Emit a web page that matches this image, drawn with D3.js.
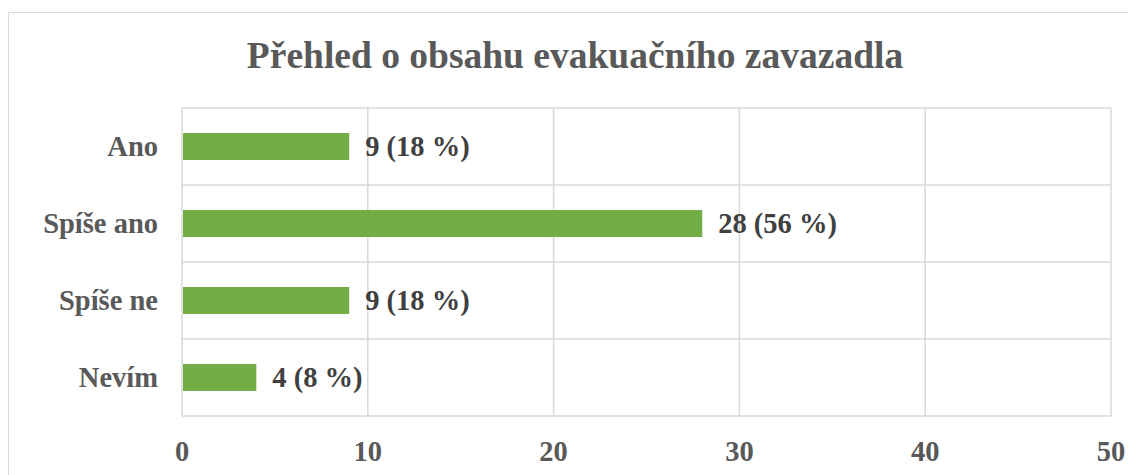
<!DOCTYPE html>
<meta charset="utf-8">
<style>
  body { margin: 0; background: #fff; }
  text { font-family: "Liberation Serif", "Times New Roman", serif; font-weight: bold; }
</style>
<script src="https://d3js.org/d3.v7.min.js"></script>
<svg width="1128" height="475"></svg>
<script>
const categories = ['Ano', 'Spíše ano', 'Spíše ne', 'Nevím'];
const counts = [9, 28, 9, 4];
const percents = [18, 56, 18, 8];
const xTicks = [0, 10, 20, 30, 40, 50];
const title = 'Přehled o obsahu evakuačního zavazadla';

const svg = d3.select('svg');

// chart frame
svg.append('rect')
  .attr('x', 8.5).attr('y', 12.5)
  .attr('width', 1140).attr('height', 480)
  .attr('fill', 'none').attr('stroke', '#d9d9d9').attr('stroke-width', 1);

svg.append('text')
  .attr('x', 575).attr('y', 68)
  .attr('text-anchor', 'middle')
  .attr('font-size', 37.5)
  .attr('fill', '#595959')
  .text(title);

const plotL = 182, plotR = 1111, plotT = 108, plotB = 416;

const x = d3.scaleLinear().domain([0, 50]).range([plotL, plotR]);
const y = d3.scaleBand().domain(categories).range([plotT, plotB]).paddingInner(0.65).paddingOuter(0.325);
const rows = d3.scaleBand().domain(categories).range([plotT, plotB]);

// grid
const grid = svg.append('g').attr('stroke', '#d9d9d9').attr('stroke-width', 1.5);
grid.selectAll('.v').data(xTicks).join('line')
  .attr('x1', d => x(d)).attr('x2', d => x(d))
  .attr('y1', plotT).attr('y2', plotB);
grid.selectAll('.h').data(categories.concat(['end'])).join('line')
  .attr('x1', plotL).attr('x2', plotR)
  .attr('y1', (d, i) => i < categories.length ? rows(d) : plotB)
  .attr('y2', (d, i) => i < categories.length ? rows(d) : plotB);

// bars
svg.selectAll('.bar').data(categories).join('rect')
  .attr('x', x(0) + 1)
  .attr('y', d => y(d))
  .attr('width', (d, i) => x(counts[i]) - x(0) - 1)
  .attr('height', y.bandwidth())
  .attr('fill', '#70ad47');

// data labels
svg.selectAll('.lbl').data(categories).join('text')
  .attr('x', (d, i) => x(counts[i]) + 16)
  .attr('y', d => y(d) + y.bandwidth() / 2)
  .attr('dy', '0.35em')
  .attr('font-size', 28.5)
  .attr('fill', '#404040')
  .text((d, i) => `${counts[i]} (${percents[i]} %)`);

// category labels
svg.selectAll('.cat').data(categories).join('text')
  .attr('x', 158)
  .attr('y', d => y(d) + y.bandwidth() / 2)
  .attr('dy', '0.35em')
  .attr('text-anchor', 'end')
  .attr('font-size', 28.5)
  .attr('fill', '#595959')
  .text(d => d);

// x tick labels
svg.selectAll('.tick').data(xTicks).join('text')
  .attr('x', d => x(d))
  .attr('y', 461)
  .attr('text-anchor', 'middle')
  .attr('font-size', 28.5)
  .attr('fill', '#595959')
  .text(d => d);
</script>
